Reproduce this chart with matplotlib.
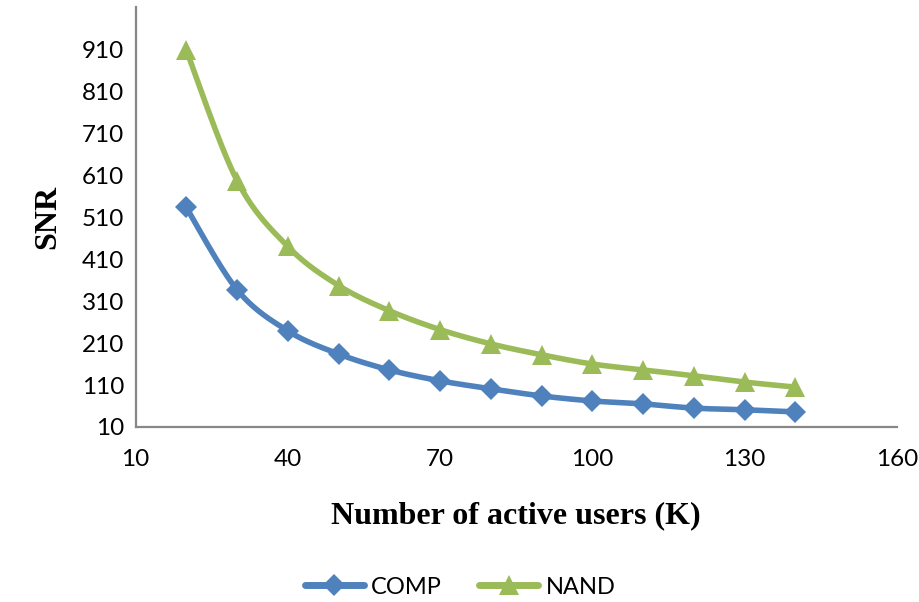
import numpy as np
import matplotlib
matplotlib.use("Agg")
import matplotlib.pyplot as plt

# data
users = [20, 30, 40, 50, 60, 70, 80, 90, 100, 110, 120, 130, 140]
comp = [533, 337, 239, 184, 146, 120, 101, 84, 72, 65, 55, 51, 46]
nand = [908, 597, 440, 347, 287, 242, 208, 182, 160, 146, 132, 117, 105]

x_ticks = [10, 40, 70, 100, 130, 160]
y_ticks = [10, 110, 210, 310, 410, 510, 610, 710, 810, 910]

BLUE = "#4F81BD"
GREEN = "#9BBB59"
AXIS = "#878787"


def smooth(xs, ys, n=30):
    # Excel-style smoothed line: Catmull-Rom segments as cubic Beziers
    p = np.column_stack([xs, ys]).astype(float)
    ext = np.vstack([p[0], p, p[-1]])
    t = np.linspace(0, 1, n)[:, None]
    out = []
    for i in range(len(p) - 1):
        p0, p1, p2, p3 = ext[i], ext[i + 1], ext[i + 2], ext[i + 3]
        c1 = p1 + (p2 - p0) / 6
        c2 = p2 - (p3 - p1) / 6
        seg = ((1 - t) ** 3) * p1 + 3 * ((1 - t) ** 2) * t * c1 \
            + 3 * (1 - t) * t ** 2 * c2 + t ** 3 * p2
        out.append(seg if i == 0 else seg[1:])
    out = np.vstack(out)
    return out[:, 0], out[:, 1]


fig = plt.figure(figsize=(9.2, 6.02), dpi=100, facecolor="w")
ax = fig.add_axes([0.1473, 0.2907, 0.8277, 0.6973])

for ys, color, marker, ms, label in [
    (comp, BLUE, "D", 11, "COMP"),
    (nand, GREEN, "^", 14.5, "NAND"),
]:
    sx, sy = smooth(users, ys)
    ax.plot(sx, sy, color=color, lw=4, solid_capstyle="round", zorder=2)
    ax.plot(users, ys, ls="none", marker=marker, ms=ms, color=color,
            markeredgewidth=0, zorder=3)
    ax.plot([], [], color=color, lw=5, marker=marker, ms=ms,
            markeredgewidth=0, solid_capstyle="round", label=label)

ax.set_xlim(10, 160)
ax.set_ylim(10, 1010)
ax.set_xticks(x_ticks)
ax.set_yticks(y_ticks)

tick_font = {"family": ["Lato", "DejaVu Sans"], "size": 17.5}
ax.set_xticklabels([str(v) for v in x_ticks], fontdict=tick_font)
ax.set_yticklabels([str(v) for v in y_ticks], fontdict=tick_font)
ax.tick_params(length=0)
ax.tick_params(axis="x", pad=16)
ax.tick_params(axis="y", pad=8)

for side in ["top", "right"]:
    ax.spines[side].set_visible(False)
for side in ["left", "bottom"]:
    ax.spines[side].set_color(AXIS)
    ax.spines[side].set_linewidth(1.6)

label_font = {"family": "Liberation Serif", "weight": "bold", "size": 23}
ax.set_xlabel("Number of active users (K)", fontdict=label_font, labelpad=22)
ax.set_ylabel("SNR", fontdict=label_font, labelpad=14)

fig.legend(loc="lower center", bbox_to_anchor=(0.5, -0.028), ncol=2,
           frameon=False, handlelength=2.5, handletextpad=0.3,
           columnspacing=1.6,
           prop={"family": ["Lato", "DejaVu Sans"], "size": 17})

fig.savefig("out.png", dpi=100, facecolor="w")
